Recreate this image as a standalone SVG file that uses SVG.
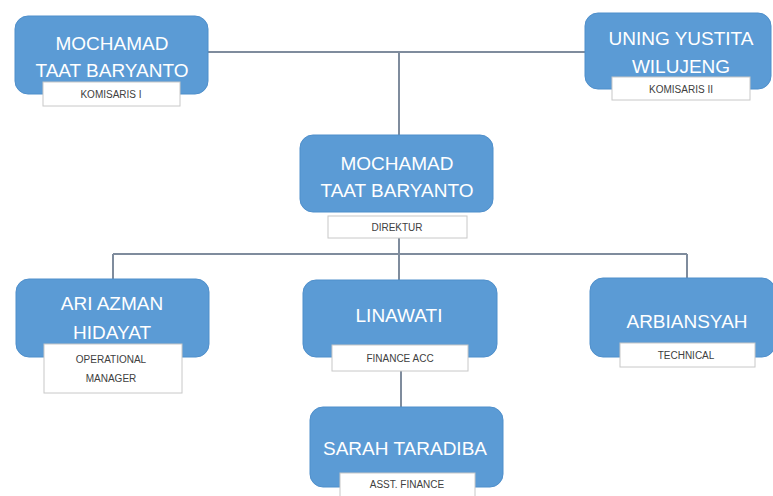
<svg xmlns="http://www.w3.org/2000/svg" width="773" height="496" viewBox="0 0 773 496">
<style>
.box{fill:#5b9bd5;stroke:#4f8fcb;stroke-width:1}
.lbl{fill:#ffffff;stroke:#c8c8c8;stroke-width:1}
.name{font-family:"Liberation Sans",Arial,sans-serif;font-size:19px;fill:#ffffff;text-anchor:middle}
.role{font-family:"Liberation Sans",Arial,sans-serif;font-size:10px;fill:#404040;text-anchor:middle}
.ln{stroke:#7f8c9d;stroke-width:2;fill:none}
</style>
<rect width="773" height="496" fill="#ffffff"/>
<g id="connectors">
<path class="ln" d="M208 52 H585"/>
<path class="ln" d="M399 52 V135"/>
<path class="ln" d="M399 238 V254"/>
<path class="ln" d="M113 254 H687"/>
<path class="ln" d="M113 254 V280"/>
<path class="ln" d="M399 254 V280"/>
<path class="ln" d="M687 254 V278"/>
<path class="ln" d="M401 371 V408"/>
</g>
<g id="komisaris1">
<rect class="box" x="15" y="16" width="193" height="78" rx="13"/>
<text class="name" x="112" y="50">MOCHAMAD</text>
<text class="name" x="112" y="77">TAAT BARYANTO</text>
<rect class="lbl" x="43" y="82" width="137" height="24"/>
<text class="role" x="111" y="98">KOMISARIS I</text>
</g>
<g id="komisaris2">
<rect class="box" x="585" y="13" width="186" height="76" rx="13"/>
<text class="name" x="681" y="45">UNING YUSTITA</text>
<text class="name" x="681" y="73">WILUJENG</text>
<rect class="lbl" x="612" y="77" width="138" height="23"/>
<text class="role" x="681" y="93">KOMISARIS II</text>
</g>
<g id="direktur">
<rect class="box" x="300" y="135" width="193" height="77" rx="13"/>
<text class="name" x="397" y="170">MOCHAMAD</text>
<text class="name" x="397" y="197">TAAT BARYANTO</text>
<rect class="lbl" x="328" y="216" width="139" height="22"/>
<text class="role" x="397" y="231">DIREKTUR</text>
</g>
<g id="operational">
<rect class="box" x="16" y="279" width="193" height="78" rx="13"/>
<text class="name" x="112" y="310">ARI AZMAN</text>
<text class="name" x="112" y="339">HIDAYAT</text>
<rect class="lbl" x="44" y="344" width="138" height="49"/>
<text class="role" x="111" y="363">OPERATIONAL</text>
<text class="role" x="111" y="382">MANAGER</text>
</g>
<g id="finance">
<rect class="box" x="303" y="280" width="194" height="77" rx="13"/>
<text class="name" x="399" y="322">LINAWATI</text>
<rect class="lbl" x="332" y="345" width="136" height="26"/>
<text class="role" x="400" y="362">FINANCE ACC</text>
</g>
<g id="technical">
<rect class="box" x="590" y="278" width="185" height="79" rx="13"/>
<text class="name" x="687" y="328">ARBIANSYAH</text>
<rect class="lbl" x="620" y="343" width="135" height="24"/>
<text class="role" x="686" y="359">TECHNICAL</text>
</g>
<g id="asst-finance">
<rect class="box" x="310" y="407" width="193" height="80" rx="13"/>
<text class="name" x="405" y="455">SARAH TARADIBA</text>
<rect class="lbl" x="340" y="473" width="135" height="25"/>
<text class="role" x="407" y="488">ASST. FINANCE</text>
</g>
</svg>
